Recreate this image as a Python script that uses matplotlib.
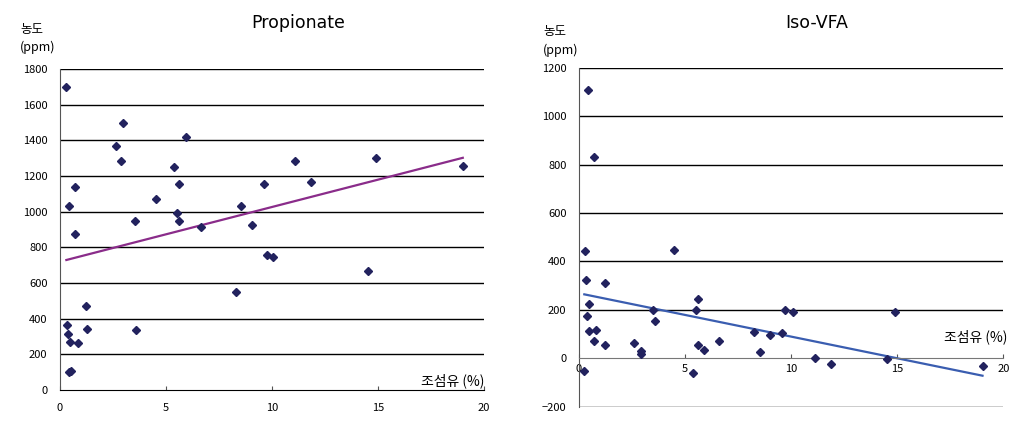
import matplotlib
matplotlib.use("Agg")
import matplotlib.pyplot as plt
import numpy as np

plt.rcParams['font.family'] = ['Noto Sans CJK KR', 'DejaVu Sans']

# ---- Propionate data ----
prop_x = [0.28, 2.96, 2.64, 2.88, 5.94, 5.38, 5.63, 4.51, 0.72, 0.41, 8.54, 9.62,
          11.10, 11.86, 14.90, 19.02, 5.53, 3.52, 5.63, 6.63, 0.72, 9.06, 9.75,
          10.06, 14.53, 8.29, 1.23, 0.35, 0.38, 1.29, 3.58, 0.49, 0.83, 0.42, 0.50]
prop_y = [1700, 1495, 1368, 1282, 1417, 1250, 1153, 1071, 1140, 1033, 1033, 1153,
          1282, 1166, 1301, 1258, 994, 949, 949, 916, 873, 923, 759,
          744, 667, 551, 471, 364, 312, 344, 338, 267, 261, 100, 108]
prop_trend_x = [0.3, 19.0]
prop_trend_y = [729, 1302]

# ---- Iso-VFA data ----
iso_x = [0.27, 4.49, 0.34, 1.23, 0.46, 0.39, 0.46, 0.80, 0.71, 1.21, 0.25, 5.59,
         5.50, 3.49, 3.58, 2.61, 2.92, 2.92, 5.59, 5.89, 6.60, 5.36, 8.26, 8.52,
         9.02, 9.57, 9.72, 10.07, 11.12, 11.87, 14.51, 14.89, 19.02, 0.41, 0.72]
iso_y = [443, 447, 322, 310, 226, 175, 113, 117, 70, 56, -54, 244,
         200, 200, 153, 65, 31, 18, 56, 34, 71, -59, 110, 25,
         95, 106, 200, 190, 0, -22, -3, 190, -30, 1109, 830]
iso_trend_x = [0.25, 19.02]
iso_trend_y = [264, -72]

x_ticks = [0, 5, 10, 15, 20]
prop_yticks = list(range(0, 1801, 200))
iso_yticks = list(range(-200, 1201, 200))

marker_color = '#22225e'
W, H = 1021, 423
fig = plt.figure(figsize=(W / 100, H / 100), dpi=100)

# ---------- Left: Propionate ----------
axL = fig.add_axes([60 / W, 1 - 390 / H, 424 / W, 321 / H])
axL.set_xlim(0, 20)
axL.set_ylim(0, 1800)
for y in prop_yticks[1:]:
    axL.axhline(y, color='black', lw=1.0, zorder=1)
axL.plot(prop_trend_x, prop_trend_y, color='#8a2c8a', lw=1.6, zorder=2)
axL.plot(prop_x, prop_y, 'D', color=marker_color, ms=3.6, zorder=3, clip_on=False)
axL.set_xticks(x_ticks)
axL.set_yticks(prop_yticks)
axL.tick_params(axis='x', direction='in', length=3, pad=9, labelsize=8, color='#555555')
axL.tick_params(axis='y', length=0, pad=9, labelsize=8)
for s in ['top', 'right']:
    axL.spines[s].set_visible(False)
axL.spines['left'].set_color('#555555')
axL.spines['bottom'].set_color('black')
axL.text(20, 10, '조섬유 (%)', ha='right', va='bottom', fontsize=10)
fig.text(298 / W, 1 - 23 / H, 'Propionate', ha='center', va='center', fontsize=12.5,
         family=['DejaVu Sans'])
fig.text(20 / W, 1 - 29 / H, '농도', ha='left', va='center', fontsize=9)
fig.text(20 / W, 1 - 47 / H, '(ppm)', ha='left', va='center', fontsize=9)

# ---------- Right: Iso-VFA ----------
axR = fig.add_axes([579 / W, 1 - 406.7 / H, 424.3 / W, 339 / H])
axR.set_xlim(0, 20)
axR.set_ylim(-200, 1200)
for y in iso_yticks:
    if y == 0:
        continue
    axR.axhline(y, color='black', lw=1.0, zorder=1)
axR.plot(iso_trend_x, iso_trend_y, color='#3a5db0', lw=1.6, zorder=2)
axR.plot(iso_x, iso_y, 'D', color=marker_color, ms=3.6, zorder=3, clip_on=False)
axR.set_xticks(x_ticks)
axR.set_yticks(iso_yticks)
axR.spines['bottom'].set_position(('data', 0))
axR.spines['bottom'].set_color('#777777')
axR.spines['left'].set_color('#555555')
for s in ['top', 'right']:
    axR.spines[s].set_visible(False)
axR.tick_params(axis='x', direction='in', length=3, pad=4, labelsize=8, color='#555555')
axR.tick_params(axis='y', length=0, pad=9, labelsize=8)
axR.text(20.2, 89, '조섬유 (%)', ha='right', va='center', fontsize=10)
fig.text(817 / W, 1 - 23 / H, 'Iso-VFA', ha='center', va='center', fontsize=12.5,
         family=['DejaVu Sans'])
fig.text(543 / W, 1 - 32 / H, '농도', ha='left', va='center', fontsize=9)
fig.text(543 / W, 1 - 50 / H, '(ppm)', ha='left', va='center', fontsize=9)

fig.savefig('out.png', dpi=100)
